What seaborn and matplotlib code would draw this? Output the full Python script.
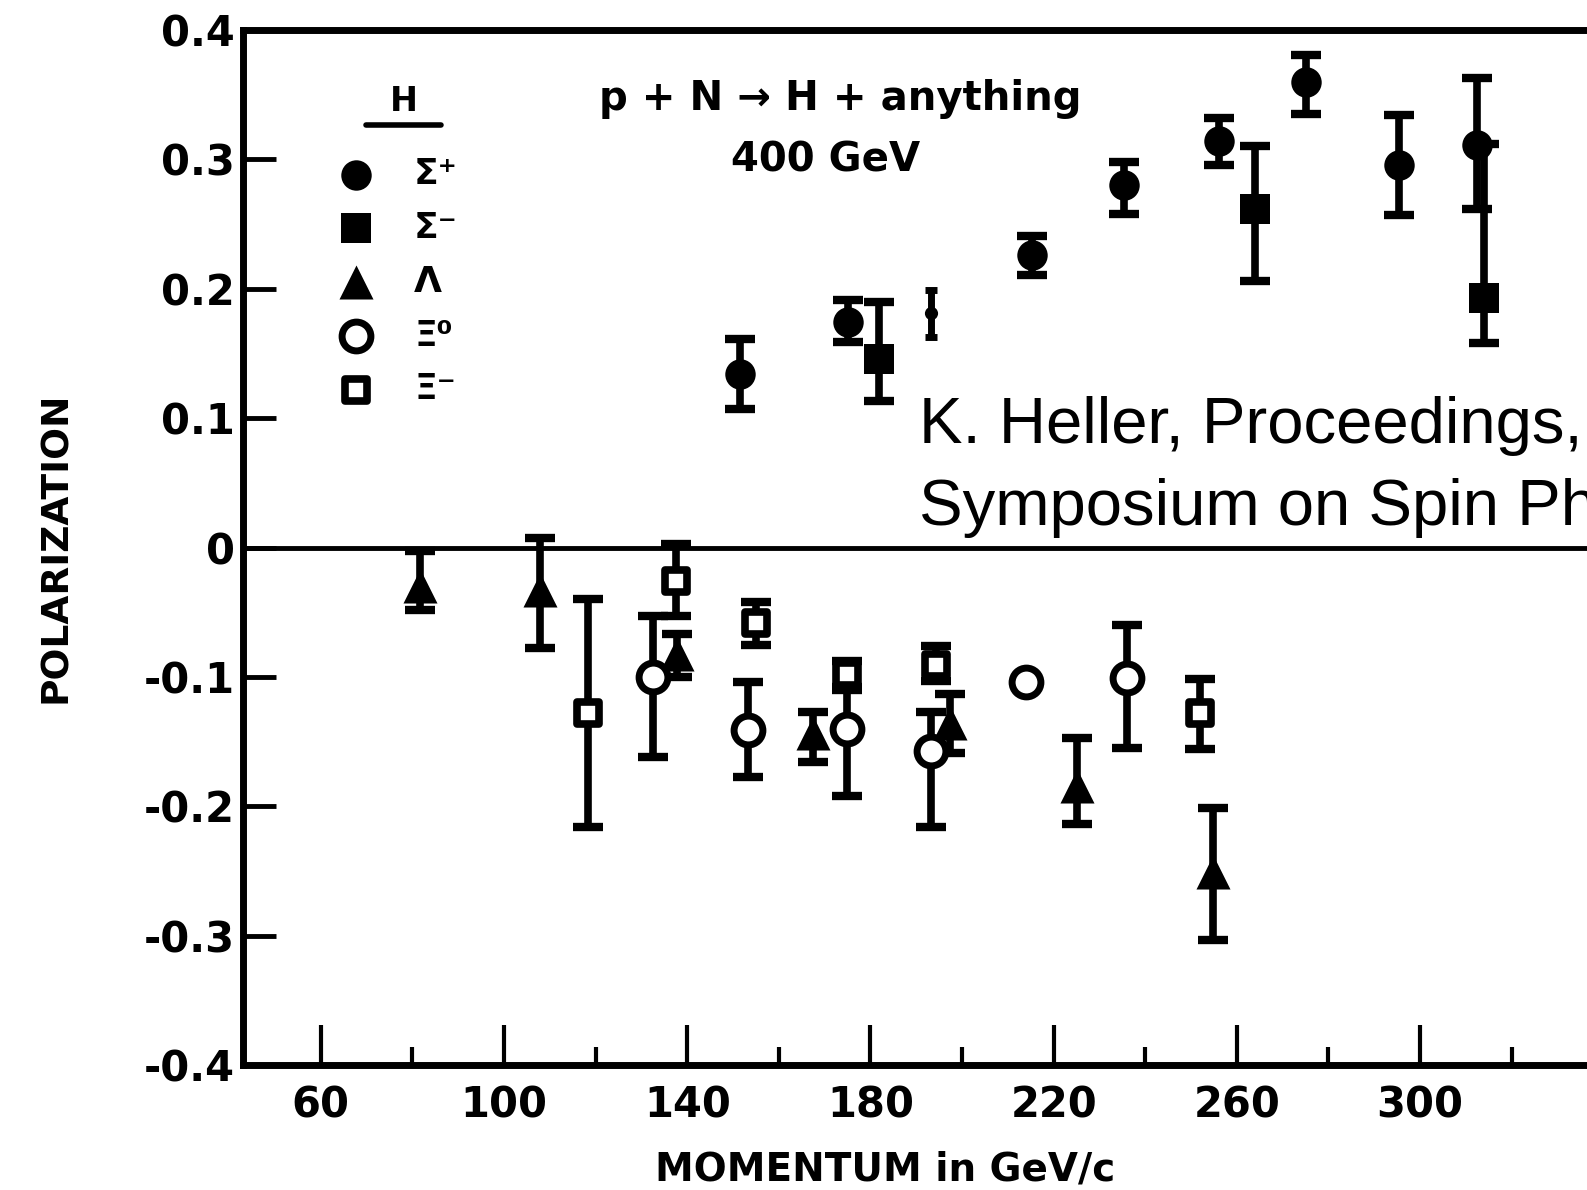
import numpy as np
import pandas as pd
import matplotlib
matplotlib.use("Agg")
import matplotlib.pyplot as plt
from matplotlib.ticker import FixedLocator
import seaborn as sns

# ---------------- data ----------------
# Sigma+ : filled circles
sigp_x = [151.6, 175.0, 215.2, 235.3, 256.0, 275.2, 295.5, 312.5]
sigp_y = [0.134, 0.174, 0.226, 0.280, 0.314, 0.360, 0.296, 0.311]
sigp_lo = [0.027, 0.015, 0.015, 0.022, 0.018, 0.025, 0.039, 0.049]
sigp_hi = [0.027, 0.017, 0.015, 0.018, 0.018, 0.021, 0.038, 0.052]
# Sigma+ small point
sigp2_x = [193.3]
sigp2_y = [0.181]
sigp2_err = [0.018]

# Sigma- : filled squares
sigm_x = [181.8, 264.0, 313.9]
sigm_y = [0.146, 0.262, 0.193]
sigm_lo = [0.033, 0.056, 0.035]
sigm_hi = [0.044, 0.048, 0.119]

# Lambda : filled triangles
lam_x = [81.6, 107.9, 137.8, 167.5, 197.3, 225.1, 254.7]
lam_y = [-0.030, -0.033, -0.082, -0.143, -0.136, -0.184, -0.251]
lam_lo = [0.018, 0.045, 0.018, 0.023, 0.023, 0.030, 0.052]
lam_hi = [0.027, 0.040, 0.015, 0.016, 0.023, 0.037, 0.050]

# Xi0 : open circles
xi0_x = [132.6, 153.2, 174.8, 193.3, 213.9, 236.0]
xi0_y = [-0.100, -0.141, -0.140, -0.157, -0.104, -0.101]
xi0_lo = [0.062, 0.036, 0.052, 0.059, 0.0, 0.054]
xi0_hi = [0.047, 0.037, 0.030, 0.030, 0.0, 0.041]

# Xi- : open squares
xim_x = [118.3, 137.5, 155.0, 174.8, 194.4, 252.0]
xim_y = [-0.128, -0.026, -0.058, -0.098, -0.091, -0.128]
xim_lo = [0.088, 0.027, 0.017, 0.010, 0.012, 0.028]
xim_hi = [0.088, 0.029, 0.016, 0.010, 0.015, 0.026]

legend_labels = ["Σ⁺", "Σ⁻", "Λ", "Ξ⁰", "Ξ⁻"]
x_major = [60, 100, 140, 180, 220, 260, 300]
x_minor = [80, 120, 160, 200, 240, 280, 320]
y_ticks = [-0.4, -0.3, -0.2, -0.1, 0.0, 0.1, 0.2, 0.3, 0.4]
y_ticklabels = ["-0.4", "-0.3", "-0.2", "-0.1", "0", "0.1", "0.2", "0.3", "0.4"]

# ---------------- style ----------------
sns.set_theme(style="white")
plt.rcParams["font.family"] = ["DejaVu Sans"]
plt.rcParams["font.weight"] = "bold"
for k in ["text.color", "axes.labelcolor", "xtick.color", "ytick.color",
          "axes.edgecolor"]:
    plt.rcParams[k] = "black"

fig = plt.figure(figsize=(15.87, 11.90), dpi=100)
fig.patch.set_facecolor("white")
ax = fig.add_axes([0.1531, 0.105, 0.8716, 0.8698])
ax.set_facecolor("white")

ax.set_xlim(43, 345)
ax.set_ylim(-0.4, 0.4)

ELW, CAP, CT = 5.5, 11, 6


def draw(xs, ys, lo, hi, marker, s, face, lw):
    xs = np.asarray(xs, float)
    ys = np.asarray(ys, float)
    lo = np.asarray(lo, float)
    hi = np.asarray(hi, float)
    m = (lo + hi) > 0
    if m.any():
        ax.errorbar(xs[m], ys[m], yerr=[lo[m], hi[m]], fmt="none",
                    ecolor="black", elinewidth=ELW, capsize=CAP,
                    capthick=CT, zorder=2)
    sns.scatterplot(x=xs, y=ys, marker=marker, s=s, color=face,
                    edgecolor="black", linewidth=lw, ax=ax, zorder=3,
                    legend=False)
    return ax.collections[-1]


h1 = draw(sigp_x, sigp_y, sigp_lo, sigp_hi, "o", 480, "black", 0)
# small Sigma+ point
ax.errorbar(sigp2_x, sigp2_y, yerr=sigp2_err, fmt="none", ecolor="black",
            elinewidth=5, capsize=4, capthick=5, zorder=2)
sns.scatterplot(x=sigp2_x, y=sigp2_y, marker="o", s=90, color="black",
                linewidth=0, ax=ax, zorder=3, legend=False)
h2 = draw(sigm_x, sigm_y, sigm_lo, sigm_hi, "s", 480, "black", 0)
h3 = draw(lam_x, lam_y, lam_lo, lam_hi, "^", 600, "black", 0)
h4 = draw(xi0_x, xi0_y, xi0_lo, xi0_hi, "o", 430, "white", 5)
h5 = draw(xim_x, xim_y, xim_lo, xim_hi, "s", 240, "white", 5.5)

# zero line
ax.axhline(0, color="black", lw=3.5, zorder=1)

# ---------------- axes ----------------
for side in ["left", "top", "bottom"]:
    ax.spines[side].set_visible(True)
    ax.spines[side].set_color("black")
    ax.spines[side].set_linewidth(5)
ax.spines["right"].set_visible(False)

ax.xaxis.set_major_locator(FixedLocator(x_major))
ax.xaxis.set_minor_locator(FixedLocator(x_minor))
ax.set_xticklabels([str(v) for v in x_major])
ax.set_yticks(y_ticks)
ax.set_yticklabels(y_ticklabels)

ax.tick_params(axis="x", which="major", direction="in", length=29, width=3,
               color="black", labelsize=30, pad=14, bottom=True, top=False)
ax.tick_params(axis="x", which="minor", direction="in", length=13, width=3,
               color="black", bottom=True, top=False)
ax.tick_params(axis="y", which="major", direction="in", length=24, width=3.5,
               color="black", labelsize=30, pad=6, left=True, right=False)
for t in ax.get_xticklabels() + ax.get_yticklabels():
    t.set_fontweight("bold")
    t.set_color("black")

ax.set_xlabel("MOMENTUM in GeV/c", fontsize=28, fontweight="bold")
ax.set_ylabel("POLARIZATION", fontsize=27, fontweight="bold")
ax.xaxis.label.set_va("center")
ax.yaxis.label.set_va("center")
ax.xaxis.set_label_coords(0.464, -0.1005)
ax.yaxis.set_label_coords(-0.135, 0.5)

# reaction text
ax.text(0.4317, 0.9330, "p + N → H + anything", transform=ax.transAxes,
        ha="center", va="center", fontsize=29, fontweight="bold")
ax.text(0.4215, 0.8735, "400 GeV", transform=ax.transAxes,
        ha="center", va="center", fontsize=29, fontweight="bold")

# legend header "H" with underline
ax.text(0.1160, 0.9310, "H", transform=ax.transAxes, ha="center",
        va="center", fontsize=24, fontweight="bold")
ax.plot([0.089, 0.143], [0.9085, 0.9085], transform=ax.transAxes,
        color="black", lw=4, solid_capstyle="round", clip_on=False)

# legend
leg = ax.legend([h1, h2, h3, h4, h5], legend_labels,
                loc="upper left", bbox_to_anchor=(0.1995, 0.8832),
                bbox_transform=fig.transFigure, frameon=False,
                prop={"size": 26, "weight": "bold"},
                handlelength=1.2, handletextpad=1.0, labelspacing=0.55,
                borderpad=0, scatterpoints=1)
leg.set_zorder(5)

# citation text (clipped at the figure edge, as in the source)
fig.text(0.579, (1190 - 443) / 1190, "K. Heller, Proceedings,",
         fontsize=47, family=["Liberation Sans", "DejaVu Sans"],
         fontweight="normal", ha="left", va="baseline", color="black")
fig.text(0.579, (1190 - 525) / 1190, "Symposium on Spin Physics",
         fontsize=47, family=["Liberation Sans", "DejaVu Sans"],
         fontweight="normal", ha="left", va="baseline", color="black")

fig.savefig("out.png", dpi=100, facecolor="white")
